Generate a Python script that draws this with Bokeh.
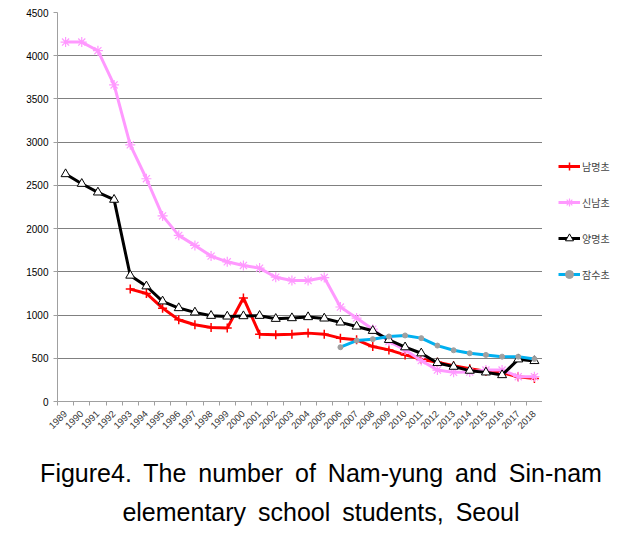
from bokeh.plotting import figure
from bokeh.models import FixedTicker, Legend, LegendItem, Range1d, CustomJSTickFormatter, Div
from bokeh.layouts import column, row
from bokeh.embed import file_html
from bokeh.resources import INLINE

years = list(range(1989, 2019))

# 남명초 (1993-2018)
nm_years = list(range(1993, 2019))
nm_vals = [1300, 1250, 1080, 946, 888, 857, 849, 1198, 779, 771, 779, 791, 779,
           733, 713, 636, 597, 539, 488, 453, 415, 380, 349, 333, 287, 267]

# 신남초 (1989-2018)
sn_years = list(range(1989, 2019))
sn_vals = [4158, 4158, 4058, 3662, 2969, 2577, 2147, 1922, 1806, 1682, 1616, 1574,
           1543, 1438, 1399, 1399, 1434, 1093, 965, 837, 694, 597, 473, 364, 337,
           341, 364, 364, 287, 287]

# 양명초 (1989-2018)
ym_years = list(range(1989, 2019))
ym_vals = [2631, 2519, 2419, 2335, 1457, 1333, 1159, 1081, 1031, 992, 984, 988,
           992, 957, 965, 977, 961, 915, 868, 818, 713, 628, 558, 446, 403, 357,
           337, 306, 488, 469]

# 잠수초 (2006-2018)
js_years = list(range(2006, 2019))
js_vals = [628, 705, 721, 752, 764, 733, 647, 593, 558, 539, 519, 519, 492]

series_names = ["남명초", "신남초", "양명초", "잠수초"]
y_ticks = [0, 500, 1000, 1500, 2000, 2500, 3000, 3500, 4000, 4500]

caption_lines = ["Figure4. The number of Nam-yung and Sin-nam",
                 "elementary school students, Seoul"]

FONT = "Liberation Sans"
RED = "#ff0000"
PINK = "#ff99ff"
BLACK = "#000000"
BLUE = "#00b0f0"

p = figure(width=542, height=440, output_backend="svg", toolbar_location=None,
           min_border_left=57, min_border_right=0, min_border_top=12, min_border_bottom=39,
           x_range=Range1d(1988.5, 2018.5), y_range=Range1d(0, 4500))
p.outline_line_color = None
p.background_fill_color = "white"

p.xgrid.grid_line_color = None
p.ygrid.grid_line_color = "#808080"
p.ygrid.grid_line_width = 1

p.yaxis.ticker = FixedTicker(ticks=y_ticks)
p.yaxis.axis_line_color = "#a0a0a0"
p.yaxis.major_tick_line_color = "#a0a0a0"
p.yaxis.major_tick_out = 4
p.yaxis.major_tick_in = 0
p.yaxis.minor_tick_line_color = None
p.yaxis.major_label_text_font = FONT
p.yaxis.major_label_text_font_size = "10px"
p.yaxis.major_label_text_color = "black"

p.xaxis.ticker = FixedTicker(ticks=years, minor_ticks=[y - 0.5 for y in years] + [2018.5])
p.xaxis.formatter = CustomJSTickFormatter(code="return String(Math.round(tick));")
p.xaxis.axis_line_color = "#a0a0a0"
p.xaxis.major_tick_line_color = None
p.xaxis.minor_tick_line_color = "#a0a0a0"
p.xaxis.minor_tick_out = 4
p.xaxis.minor_tick_in = 0
p.xaxis.major_label_orientation = 0.785
p.xaxis.major_label_text_font = FONT
p.xaxis.major_label_text_font_size = "9.5px"
p.xaxis.major_label_text_color = "#333333"
p.xaxis.major_label_standoff = 5


def draw(fig, xs, ys):
    r1 = fig.line(xs[0], ys[0], line_color=RED, line_width=3)
    m1 = fig.scatter(xs[0], ys[0], marker="cross", size=9, line_color=RED, line_width=1.5)
    r2 = fig.line(xs[1], ys[1], line_color=PINK, line_width=3)
    m2 = fig.scatter(xs[1], ys[1], marker="asterisk", size=10, line_color=PINK, line_width=1.2)
    r3 = fig.line(xs[2], ys[2], line_color=BLACK, line_width=3)
    m3 = fig.scatter(xs[2], ys[2], marker="triangle", size=9, fill_color="white",
                     line_color=BLACK, line_width=1)
    r4 = fig.line(xs[3], ys[3], line_color=BLUE, line_width=3)
    m4 = fig.scatter(xs[3], ys[3], marker="circle", size=5, fill_color="#a0a0a0",
                     line_color="#a0a0a0")
    return [[r1, m1], [r2, m2], [r3, m3], [r4, m4]]


all_x = [nm_years, sn_years, ym_years, js_years]
all_y = [nm_vals, sn_vals, ym_vals, js_vals]
draw(p, all_x, all_y)

# legend panel to the right of the plot (same series, kept out of this panel's view)
lp = figure(width=101, height=440, output_backend="svg", toolbar_location=None,
            min_border=0, x_range=Range1d(0, 1), y_range=Range1d(0, 1))
lp.axis.visible = False
lp.grid.grid_line_color = None
lp.outline_line_color = None
keys = draw(lp, all_x, all_y)

legend = Legend(items=[LegendItem(label=n, renderers=k) for n, k in zip(series_names, keys)],
                location=(16, 117), orientation="vertical", glyph_width=22, glyph_height=20,
                label_height=20, spacing=16, label_standoff=2, padding=0, margin=0,
                border_line_color=None, background_fill_alpha=0,
                label_text_font="Noto Sans CJK KR", label_text_font_size="10px")
lp.add_layout(legend, "center")

cap_html = "<br>".join(caption_lines)
cap = Div(text=cap_html, width=632, height=100,
          styles={"font-family": FONT, "font-size": "25px", "line-height": "39px",
                  "text-align": "center", "color": "black", "padding-top": "9px",
                  "word-spacing": "5px", "width": "632px"})

layout = column(row(p, lp), cap)
open("out.html", "w").write(file_html(layout, INLINE))
